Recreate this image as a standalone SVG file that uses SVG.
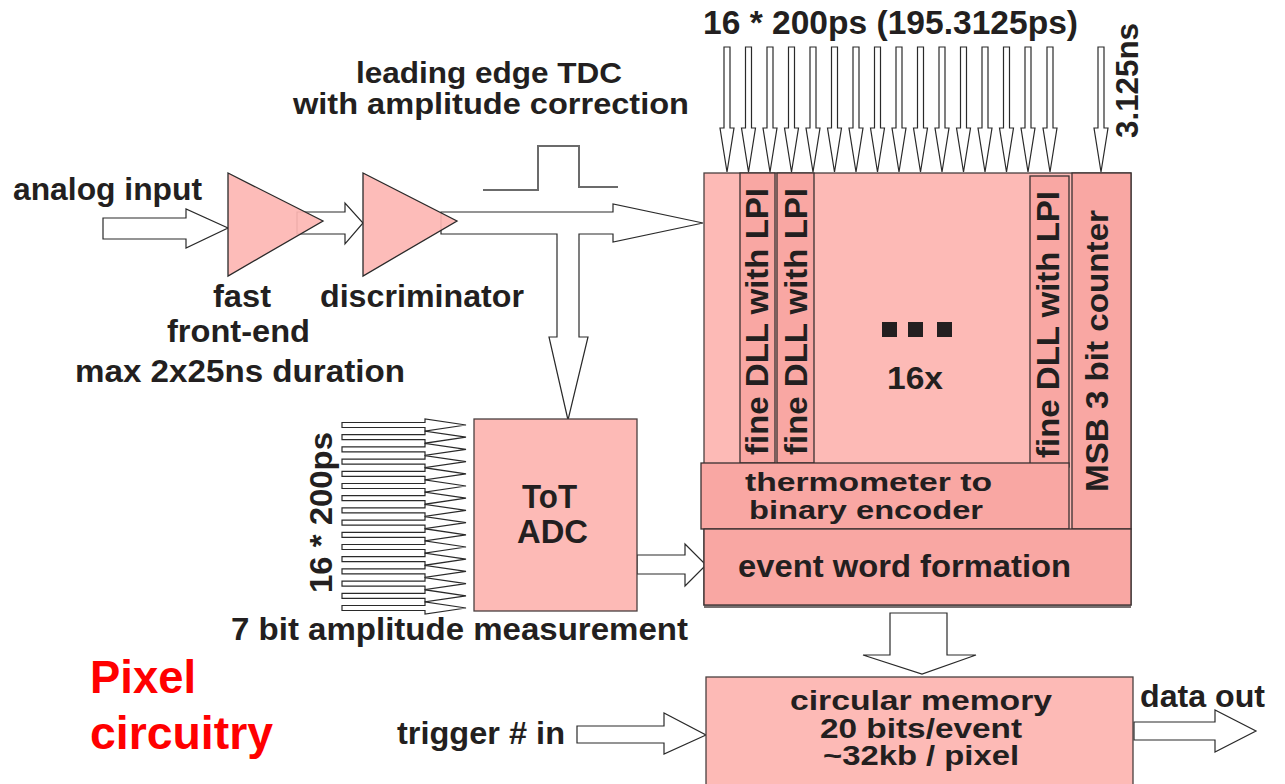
<svg xmlns="http://www.w3.org/2000/svg" width="1285" height="784" viewBox="0 0 1285 784">
<defs>
<style>
text{font-family:"Liberation Sans",Arial,sans-serif;font-weight:bold;fill:#231f20;font-size:32px}
.red{fill:#ff0000;font-size:46px}
.arr{fill:#ffffff;stroke:#2a2a2a;stroke-width:1.2;stroke-linejoin:miter}
.light{fill:#fdbab6;stroke:#4a4040;stroke-width:1.3}
.dark{fill:#f9a7a3;stroke:#3a3030;stroke-width:1.3}
.amp{fill:#fdb6b3;fill-opacity:0.92;stroke:#2a2a2a;stroke-width:1.3}
.pulse{fill:none;stroke:#6b6b6b;stroke-width:2}
</style>
<path id="va" d="M-3,47 L3,47 L3,128 L7,128 L0,172 L-7,128 L-3,128 Z"/>
<path id="ha" d="M342,-2.5 L425,-2.5 L425,-6 L466,0 L425,6 L425,2.5 L342,2.5 Z"/>
</defs>

<g id="connectors">
  <path class="arr" d="M103,218 L186,218 L186,209 L228,228 L186,248 L186,239 L103,239 Z"/>
  <path class="arr" d="M297,212 L345,212 L345,203 L363,223 L345,244 L345,234 L297,234 Z"/>
  <path class="arr" d="M441,212 L613,212 L613,204 L703,223 L613,242 L613,234 L579,234 L579,337 L588,337 L568,420 L549,337 L557,337 L557,234 L441,234 Z"/>
  <polyline class="pulse" points="483,190 538,190 538,146 579,146 579,187 618,187"/>
  <g class="arr">
    <use href="#va" x="727"/><use href="#va" x="748.5"/><use href="#va" x="770"/><use href="#va" x="791.5"/>
    <use href="#va" x="813"/><use href="#va" x="834.5"/><use href="#va" x="856"/><use href="#va" x="877.5"/>
    <use href="#va" x="899"/><use href="#va" x="920.5"/><use href="#va" x="942"/><use href="#va" x="963.5"/>
    <use href="#va" x="985"/><use href="#va" x="1006.5"/><use href="#va" x="1028"/><use href="#va" x="1050"/>
    <use href="#va" x="1101"/>
  </g>
  <g class="arr">
    <use href="#ha" y="425"/><use href="#ha" y="437.2"/><use href="#ha" y="449.4"/><use href="#ha" y="461.6"/>
    <use href="#ha" y="473.8"/><use href="#ha" y="486"/><use href="#ha" y="498.2"/><use href="#ha" y="510.4"/>
    <use href="#ha" y="522.6"/><use href="#ha" y="534.8"/><use href="#ha" y="547"/><use href="#ha" y="559.2"/>
    <use href="#ha" y="571.4"/><use href="#ha" y="583.6"/><use href="#ha" y="595.8"/><use href="#ha" y="608"/>
  </g>
  <path class="arr" d="M637,555 L685,555 L685,544 L706,565 L685,586 L685,574 L637,574 Z"/>
  <path class="arr" d="M890,613 L947,613 L947,655 L976,655 L922,674 L863,655 L890,655 Z"/>
  <path class="arr" d="M577,726 L664,726 L664,713 L706,735 L664,754 L664,743 L577,743 Z"/>
  <path class="arr" d="M1134,722 L1215,722 L1215,710 L1256,731 L1215,752 L1215,740 L1134,740 Z"/>
</g>

<g id="fast-front-end">
  <polygon class="amp" points="228,173 228,276 323,221"/>
  <text x="213" y="307" textLength="58" lengthAdjust="spacingAndGlyphs">fast</text>
  <text x="167" y="342" textLength="143" lengthAdjust="spacingAndGlyphs">front-end</text>
</g>
<g id="discriminator">
  <polygon class="amp" points="363,173 363,276 457,221"/>
  <text x="320" y="307" textLength="204" lengthAdjust="spacingAndGlyphs">discriminator</text>
</g>

<g id="labels">
  <text x="13" y="200" textLength="189" lengthAdjust="spacingAndGlyphs">analog input</text>
  <text x="356" y="83" style="font-size:30px" textLength="266" lengthAdjust="spacingAndGlyphs">leading edge TDC</text>
  <text x="293" y="114" style="font-size:30px" textLength="396" lengthAdjust="spacingAndGlyphs">with amplitude correction</text>
  <text x="75" y="382" textLength="330" lengthAdjust="spacingAndGlyphs">max 2x25ns duration</text>
  <text x="703" y="34" style="font-size:33px" textLength="375" lengthAdjust="spacingAndGlyphs">16 * 200ps (195.3125ps)</text>
  <text transform="translate(1138,138) rotate(-90)" textLength="115" lengthAdjust="spacingAndGlyphs">3.125ns</text>
  <text transform="translate(332,593) rotate(-90)" textLength="161" lengthAdjust="spacingAndGlyphs">16 * 200ps</text>
  <text x="231" y="640" textLength="457" lengthAdjust="spacingAndGlyphs">7 bit amplitude measurement</text>
  <text class="red" x="90" y="693" textLength="106" lengthAdjust="spacingAndGlyphs">Pixel</text>
  <text class="red" x="90" y="749" textLength="183" lengthAdjust="spacingAndGlyphs">circuitry</text>
  <text x="397" y="744" textLength="168" lengthAdjust="spacingAndGlyphs">trigger # in</text>
  <text x="1140" y="707" textLength="125" lengthAdjust="spacingAndGlyphs">data out</text>
</g>

<g id="tot-adc">
  <rect class="light" x="474" y="419" width="163" height="192"/>
  <text x="522" y="508" style="font-size:34px" textLength="55" lengthAdjust="spacingAndGlyphs">ToT</text>
  <text x="517" y="543" style="font-size:34px" textLength="71" lengthAdjust="spacingAndGlyphs">ADC</text>
</g>

<g id="tdc-block">
  <line x1="704" y1="607" x2="1131" y2="607" stroke="#4a4040" stroke-width="1.3"/>
  <rect class="light" x="704" y="173" width="427" height="432"/>
  <g id="dll-1">
    <rect class="dark" x="740" y="173" width="35" height="290"/>
    <text transform="translate(768,455) rotate(-90)" textLength="267" lengthAdjust="spacingAndGlyphs">fine DLL with LPI</text>
  </g>
  <g id="dll-2">
    <rect class="dark" x="777" y="173" width="37" height="290"/>
    <text transform="translate(807,455) rotate(-90)" textLength="267" lengthAdjust="spacingAndGlyphs">fine DLL with LPI</text>
  </g>
  <g id="dll-16">
    <rect class="dark" x="1030" y="176" width="39" height="291" stroke="#222"/>
    <text transform="translate(1059,458) rotate(-90)" textLength="267" lengthAdjust="spacingAndGlyphs">fine DLL with LPI</text>
  </g>
  <g id="dots">
    <rect x="882" y="322" width="15" height="15" fill="#231f20"/>
    <rect x="908" y="322" width="15" height="15" fill="#231f20"/>
    <rect x="937" y="322" width="15" height="15" fill="#231f20"/>
    <text x="887" y="389" textLength="56" lengthAdjust="spacingAndGlyphs">16x</text>
  </g>
  <g id="msb-counter">
    <rect class="dark" x="1072" y="173" width="59" height="356"/>
    <text transform="translate(1108,492) rotate(-90)" style="font-size:31px" textLength="282" lengthAdjust="spacingAndGlyphs">MSB 3 bit counter</text>
  </g>
  <g id="thermometer">
    <rect class="dark" x="701" y="463" width="368" height="66" stroke="#222" stroke-width="2.2"/>
    <text x="745" y="491" style="font-size:25px" textLength="247" lengthAdjust="spacingAndGlyphs">thermometer to</text>
    <text x="749" y="519" style="font-size:25px" textLength="234" lengthAdjust="spacingAndGlyphs">binary encoder</text>
  </g>
  <g id="event-word">
    <rect class="dark" x="704" y="529" width="427" height="76"/>
    <text x="738" y="577" textLength="333" lengthAdjust="spacingAndGlyphs">event word formation</text>
  </g>
</g>

<g id="circular-memory">
  <rect class="light" x="706" y="677" width="427" height="120"/>
  <text x="921" y="710" text-anchor="middle" style="font-size:27px" textLength="262" lengthAdjust="spacingAndGlyphs">circular memory</text>
  <text x="921" y="738" text-anchor="middle" style="font-size:27px" textLength="202" lengthAdjust="spacingAndGlyphs">20 bits/event</text>
  <text x="921" y="765" text-anchor="middle" style="font-size:27px" textLength="196" lengthAdjust="spacingAndGlyphs">~32kb / pixel</text>
</g>
</svg>
